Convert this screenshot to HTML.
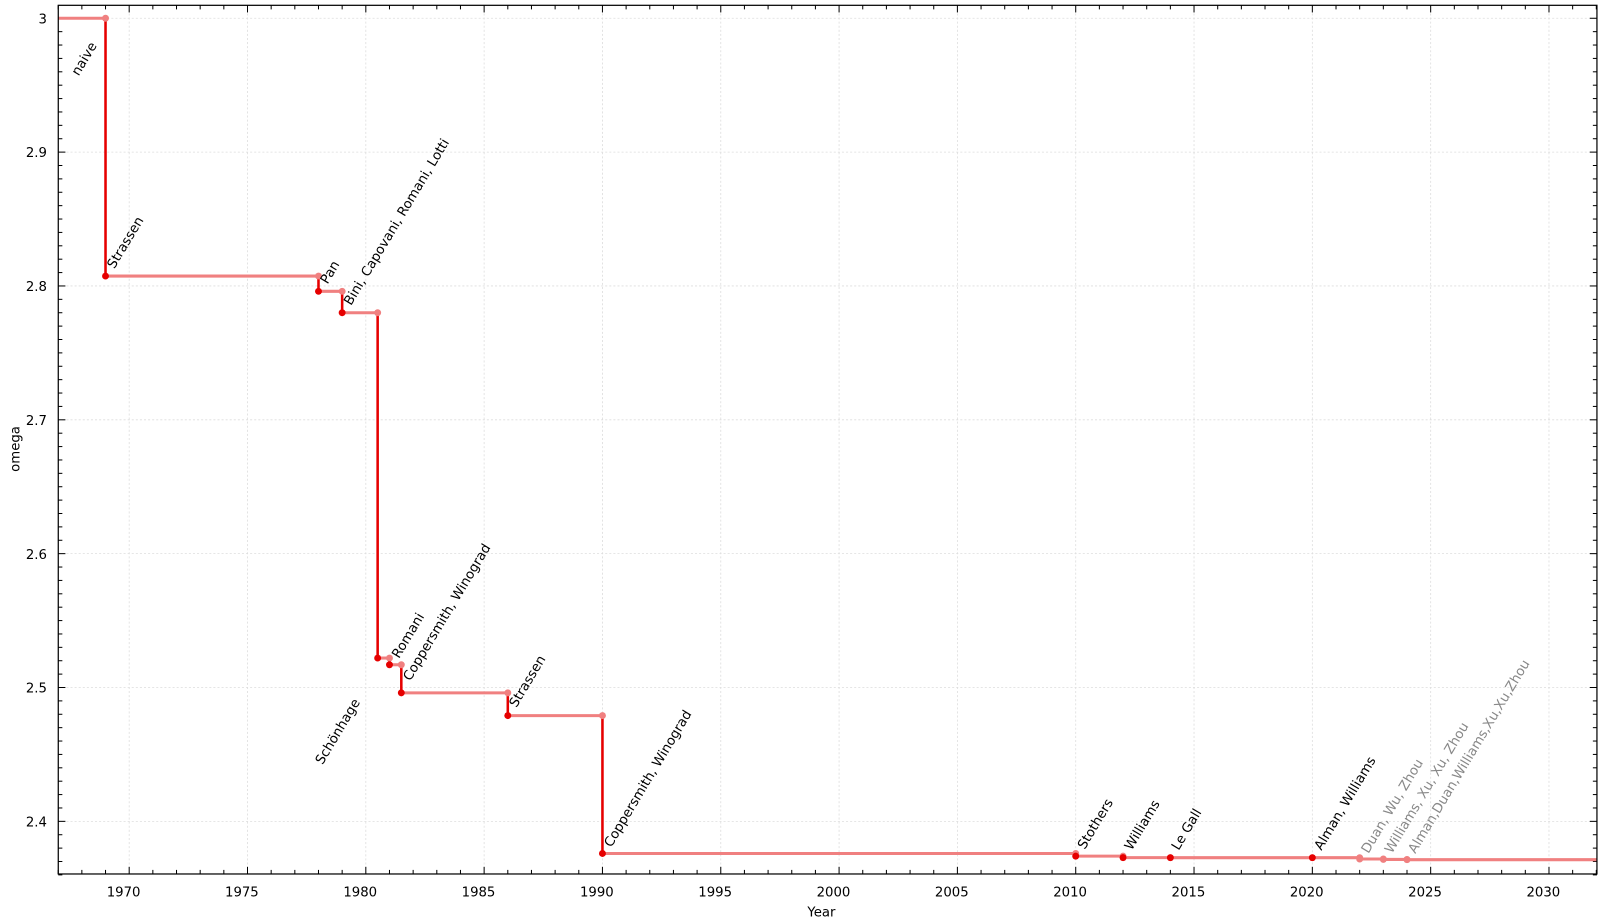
<!DOCTYPE html>
<html><head><meta charset="utf-8"><style>
html,body{margin:0;padding:0;background:#fff;}
svg{display:block;font-family:"DejaVu Sans","Liberation Sans",sans-serif;}
</style></head><body>
<svg id="s" width="1600" height="920" viewBox="0 0 1568 901.6" xmlns="http://www.w3.org/2000/svg">
<rect x="0" y="0" width="1568" height="901.6" fill="#fff"/>
<g id="grid"></g>
<g id="ticks"></g>
<g id="data"></g>
<rect x="57.1" y="5.2" width="1507.9" height="851.3" fill="none" stroke="#000" stroke-width="1.2"/>
<g font-size="13" fill="#000">
<text x="805" y="898" text-anchor="middle">Year</text>
<text transform="translate(19,440) rotate(-90)" text-anchor="middle">omega</text>
</g>
<g font-size="13" id="labels"></g>
</svg>
<script>
const NS="http://www.w3.org/2000/svg";
const X=y=>126.6+(y-1970)*23.19;
const Y=w=>17.9+(3-w)*1311.7;
const L=57.1,R=1565,T=5.2,B=856.5;
function el(p,t,a,txt){const e=document.createElementNS(NS,t);for(const k in a)e.setAttribute(k,a[k]);if(txt!==undefined)e.textContent=txt;document.getElementById(p).appendChild(e);return e;}
for(let yr=1970;yr<=2030;yr+=5){const x=X(yr);
 el('grid','line',{x1:x,x2:x,y1:T,y2:B,stroke:'#ddd','stroke-width':0.8,'stroke-dasharray':'2,2'});
 el('ticks','text',{x:x-5.5,y:B+22,'text-anchor':'middle','font-size':13},String(yr));}
for(let yr=1967;yr<=2032;yr++){const x=X(yr);const len=(yr%5==0)?7:4;
 el('ticks','line',{x1:x,x2:x,y1:B,y2:B-len,stroke:'#000','stroke-width':1});
 el('ticks','line',{x1:x,x2:x,y1:T,y2:T+len,stroke:'#000','stroke-width':1});}
for(let i=0;i<=6;i++){const w=2.4+i*0.1;const y=Y(w);
 el('grid','line',{x1:L,x2:R,y1:y,y2:y,stroke:'#ddd','stroke-width':0.8,'stroke-dasharray':'2,2'});
 el('ticks','text',{x:46,y:y+5,'text-anchor':'end','font-size':13},i==6?'3':w.toFixed(1));}
for(let i=0;i<=65;i++){const w=2.36+i*0.01;if(w>3.0095)break;const y=Y(w);const len=(i%10==4)?7:4;
 el('ticks','line',{x1:L,x2:L+len,y1:y,y2:y,stroke:'#000','stroke-width':1});
 el('ticks','line',{x1:R,x2:R-len,y1:y,y2:y,stroke:'#000','stroke-width':1});}
const d=[[1969,2.8074],[1978,2.796],[1979,2.780],[1980.5,2.522],[1981,2.517],[1981.5,2.496],[1986,2.479],[1990,2.376],[2010,2.374],[2012,2.3729],[2014,2.3728639],[2020,2.3728596],[2022,2.371866],[2023,2.371552],[2024,2.371339]];
const light='#f08080',dark='#e60000';
let pw=3.0,px=L;
const dots=[];
d.forEach(([yr,w],i)=>{
 const x=X(yr);
 el('data','line',{x1:px,x2:x,y1:Y(pw),y2:Y(pw),stroke:light,'stroke-width':3});
 const lastL=i>=12;
 el('data','line',{x1:x,x2:x,y1:Y(pw),y2:Y(w),stroke:lastL?light:dark,'stroke-width':2.5});
 dots.push([x,Y(pw),light]);
 dots.push([x,Y(w),lastL?light:dark]);
 px=x;pw=w;});
el('data','line',{x1:px,x2:R,y1:Y(pw),y2:Y(pw),stroke:light,'stroke-width':3});
dots.forEach(([x,y,c])=>el('data','circle',{cx:x,cy:y,r:3.4,fill:c}));
const labs=[['naive',77,75,'#000'],['Strassen',112,264,'#000'],['Pan',321,279,'#000'],['Bini, Capovani, Romani, Lotti',344,300,'#000'],['Schönhage',316,750,'#000'],['Romani',391,646,'#000'],['Coppersmith, Winograd',402,668,'#000'],['Strassen',506,694,'#000'],['Coppersmith, Winograd',599,831,'#000'],['Stothers',1063,833,'#000'],['Williams',1109,834,'#000'],['Le Gall',1155,834,'#000'],['Alman, Williams',1295,834,'#000'],['Duan, Wu, Zhou',1341,837,'#888'],['Williams, Xu, Xu, Zhou',1364,837,'#888'],['Alman,Duan,Williams,Xu,Xu,Zhou',1387,837,'#888']];
labs.forEach(([t,x,y,c])=>el('labels','text',{transform:`translate(${x},${y}) rotate(-59)`,fill:c},t));
</script>
</body></html>
